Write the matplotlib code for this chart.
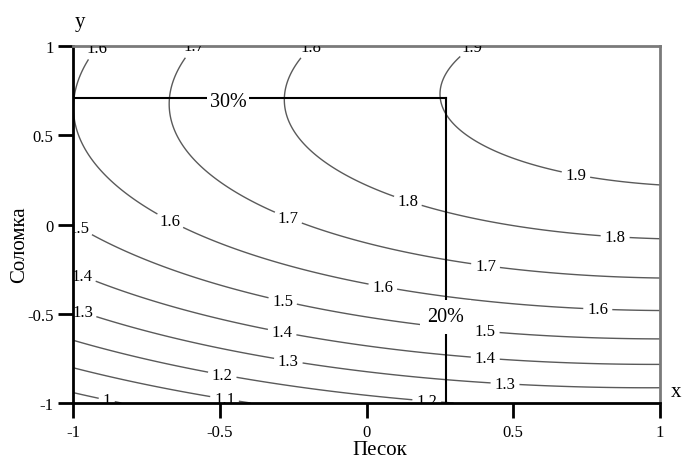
import numpy as np
import matplotlib
matplotlib.use("Agg")
import matplotlib.pyplot as plt

# ---- data (response-surface coefficients) ----
b0 = 1.7374      # intercept
b_x = 0.1660     # Песок
b_y = 0.3366     # Соломка
b_xy = 0.0285    # interaction
b_xx = -0.0728   # Песок^2
b_yy = -0.2352   # Соломка^2

levels = [1.0, 1.1, 1.2, 1.3, 1.4, 1.5, 1.6, 1.7, 1.8, 1.9]
tick_values = [-1, -0.5, 0, 0.5, 1]
tick_labels = ["-1", "-0.5", "0", "0.5", "1"]

sand_level = 0.27     # 20 %
straw_level = 0.71    # 30 %
sand_text = "20%"
straw_text = "30%"

label_spots = [(-0.884, -0.975), (-0.482, -0.96), (-0.492, -0.848), (0.206, -0.975),
               (-0.966, -0.485), (-0.267, -0.77), (0.472, -0.893),
               (-0.966, -0.277), (-0.288, -0.608), (0.404, -0.765),
               (-0.976, -0.01), (-0.284, -0.417), (0.404, -0.602),
               (-0.91, 0.98), (-0.669, 0.02), (0.056, -0.345), (0.788, -0.473),
               (-0.574, 0.98), (-0.261, 0.06), (0.404, -0.25),
               (-0.182, 0.98), (0.141, 0.132), (0.847, -0.07),
               (0.376, 0.95), (0.714, 0.283)]

plt.rcParams['font.family'] = ['Liberation Serif', 'DejaVu Serif']
plt.rcParams['axes.unicode_minus'] = False

fig = plt.figure(figsize=(6.82, 4.60), dpi=100)
ax = fig.add_axes([73/682, 56/460, 587/682, 357/460])

gx, gy = np.meshgrid(np.linspace(-1, 1, 401), np.linspace(-1, 1, 401))
gz = b0 + b_x*gx + b_y*gy + b_xy*gx*gy + b_xx*gx**2 + b_yy*gy**2

cs = ax.contour(gx, gy, gz, levels=levels, colors='#5a5a5a', linewidths=1.0)
labs = ax.clabel(cs, fmt=lambda v: f"{v:g}", manual=label_spots, inline=True,
                 inline_spacing=4, fontsize=12, colors='black')
for t in labs:
    t.set_rotation(0)
    t.set_clip_on(True)

ax.plot([-1, sand_level], [straw_level, straw_level], color='black', lw=1.5, zorder=3)
ax.plot([sand_level, sand_level], [-1, straw_level], color='black', lw=1.5, zorder=3)
ax.text(-0.472, straw_level - 0.02, straw_text, ha='center', va='center', fontsize=14.5,
        zorder=5, bbox=dict(boxstyle='square,pad=0.12', fc='white', ec='none'))
ax.text(sand_level, -0.518, sand_text, ha='center', va='center', fontsize=14.5,
        zorder=5, bbox=dict(boxstyle='square,pad=0.35', fc='white', ec='none'))

ax.set_xlim(-1, 1)
ax.set_ylim(-1, 1)
ax.set_xticks(tick_values)
ax.set_xticklabels(tick_labels)
ax.set_yticks(tick_values)
ax.set_yticklabels(tick_labels)
ax.tick_params(direction='out', length=11, width=2, labelsize=12, color='black')
ax.tick_params(axis='x', pad=4)
ax.tick_params(axis='y', pad=3)
for s in ('left', 'bottom'):
    ax.spines[s].set_linewidth(2)
    ax.spines[s].set_color('black')
for s in ('top', 'right'):
    ax.spines[s].set_linewidth(2)
    ax.spines[s].set_color('#7a7a7a')

fig.text(380/682, 1 - 451/460, "Песок", ha='center', va='center', fontsize=15)
fig.text(20/682, 1 - 245/460, "Соломка", ha='center', va='center', rotation=90, fontsize=15)
fig.text(80/682, 1 - 22/460, "y", ha='center', va='center', fontsize=15)
fig.text(676/682, 1 - 393/460, "x", ha='center', va='center', fontsize=15)

fig.savefig("out.png", dpi=100)
